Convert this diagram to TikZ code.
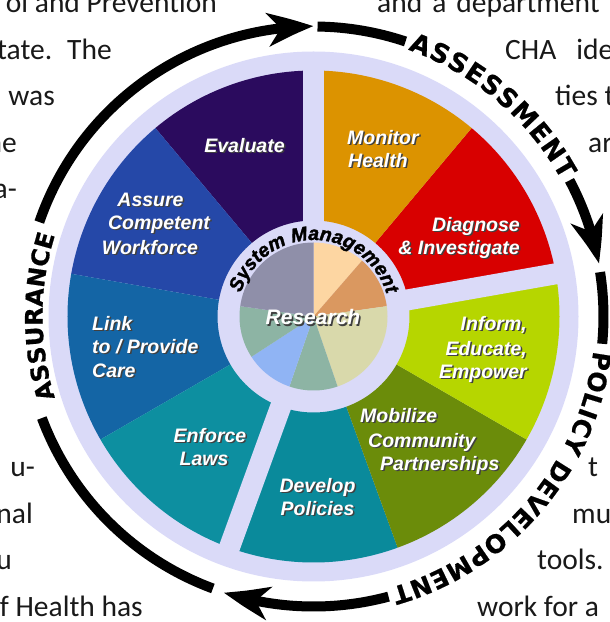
\documentclass[tikz,border=0pt]{standalone}
\usepackage{fontspec}
\setmainfont{Carlito}
\newfontfamily\wheelfont{Liberation Sans}
\newfontfamily\ringfont{Liberation Sans}[FakeBold=1.6]
\newfontfamily\phasefont{DejaVu Sans}[FakeBold=0.6]
\usetikzlibrary{arrows.meta,bending,decorations.text,calc}

\definecolor{lav}{HTML}{DADAF8}
\definecolor{evalc}{HTML}{2B0B5E}
\definecolor{monc}{HTML}{DC9300}
\definecolor{diagc}{HTML}{D80000}
\definecolor{informc}{HTML}{B6D600}
\definecolor{mobilc}{HTML}{6B8C0A}
\definecolor{developc}{HTML}{0A8A9B}
\definecolor{enforcec}{HTML}{0D8FA0}
\definecolor{linkc}{HTML}{1465A5}
\definecolor{assurec}{HTML}{2548A8}
\definecolor{peach}{HTML}{FDD6A2}
\definecolor{tan}{HTML}{DA9860}
\definecolor{khaki}{HTML}{D9D9AB}
\definecolor{sage}{HTML}{8DB4A4}
\definecolor{skyb}{HTML}{90B4F4}
\definecolor{slate}{HTML}{8F8FA9}

% annular sector of the service wheel
\newcommand\wsector[3]{\fill[#1] (#2:96pt) arc[start angle=#2,end angle=#3,radius=96pt]
  -- (#3:246pt) arc[start angle=#3,end angle=#2,radius=246pt] -- cycle;}
% slice of the central pie
\newcommand\pslice[3]{\fill[#1] (0,0) -- (#2:74pt) arc[start angle=#2,end angle=#3,radius=74pt] -- cycle;}
% white label with a dark drop shadow: name, anchor, position, text
\newcommand\wl[4]{%
  \node[lblsh,anchor=#2] (#1s) at ([shift={(1.5,-1.5)}]#3) {#4};
  \node[lbl,anchor=#2] (#1) at (#3) {#4};}

\begin{document}
\begin{tikzpicture}[x=1pt,y=1pt,
  body/.style={inner sep=0pt,font=\fontsize{29.5}{35}\selectfont,text=black!90},
  lbl/.style={inner sep=0pt,text=white,font=\wheelfont\bfseries\itshape\fontsize{19.5}{24}\selectfont},
  lblsh/.style={lbl,text=black!75},
  cyc/.style={line width=10pt,black},
  tipc/.style={-{Stealth[length=46pt,width=33pt,inset=13pt,bend]}}]
\useasboundingbox (0,0) rectangle (610,622);

% surrounding body text
\node[body,anchor=base east] (t1) at (217,609) {ol and Prevention};
\node[body,anchor=base east] (t2) at (112,562.6) {tate.\hspace{15pt}The};
\node[body,anchor=base east] (t3) at (55,516.2) {was};
\node[body,anchor=base east] (t4) at (17,469.8) {ne};
\node[body,anchor=base east] (t5) at (17,423.4) {a-};
\node[body,anchor=base east] (t6) at (35,145) {u-};
\node[body,anchor=base east] (t7) at (33,98.6) {nal};
\node[body,anchor=base east] (t8) at (12,52.2) {u};
\node[body,anchor=base east] (t9) at (143,5.8) {f Health has};
\node[body,anchor=base west] (r1) at (377,609) {and\hspace{10pt}a\hspace{10pt}department};
\node[body,anchor=base west] (r2) at (505,562.6) {CHA\hspace{20pt}ide};
\node[body,anchor=base west] (r3) at (555,516.2) {ties t};
\node[body,anchor=base west] (r4) at (588,469.8) {ar};
\node[body,anchor=base west] (r5) at (588,145) {t};
\node[body,anchor=base west] (r6) at (572,98.6) {mu};
\node[body,anchor=base west] (r7) at (537,52.2) {tools.};
\node[body,anchor=base west] (r8) at (477,5.8) {work for a};

\begin{scope}[shift={(313.5,305.5)}]
  % wheel background
  \fill[lav] (0,0) circle[radius=265pt];
  % the nine services
  \wsector{evalc}{90}{130}
  \wsector{assurec}{130}{170}
  \wsector{linkc}{170}{210}
  \wsector{enforcec}{210}{250}
  \wsector{developc}{250}{290}
  \wsector{mobilc}{290}{330}
  \wsector{informc}{330}{370}
  \wsector{diagc}{10}{50}
  \wsector{monc}{50}{90}
  % gaps between the three core functions
  \foreach \a in {90,10,250} \draw[lav,line width=21pt] (0,0) -- (\a:262pt);
  % central research pie
  \pslice{peach}{90}{49}
  \pslice{tan}{49}{8}
  \pslice{khaki}{8}{-71}
  \pslice{sage}{-71}{-109}
  \pslice{skyb}{-109}{-147}
  \pslice{sage}{-147}{-188}
  \pslice{slate}{172}{90}
  % ring text
  \path[decorate,decoration={text along path,text align=center,
     text={|\ringfont\bfseries\itshape\fontsize{19.5}{22}\selectfont|System Management}}]
     (178:76.5pt) arc[start angle=178,end angle=1,radius=76.5pt];

  % cycle arrows
  \draw[cyc,tipc] (161:290pt) arc[start angle=161,end angle=90,radius=290pt];
  \draw[cyc] (89.2:290pt) arc[start angle=89.2,end angle=71.5,radius=290pt];
  \draw[cyc,tipc] (28:290pt) arc[start angle=28,end angle=10.5,radius=290pt];
  \draw[cyc] (8.8:290pt) arc[start angle=8.8,end angle=-5.4,radius=290pt];
  \draw[cyc,tipc] (-75:290pt) arc[start angle=-75,end angle=-108,radius=290pt];
  \draw[cyc] (249.7:290pt) arc[start angle=249.7,end angle=200.5,radius=290pt];

  % core function names
  \path[decorate,decoration={text along path,text align=fit to path,
     text={|\phasefont\bfseries\fontsize{26}{30}\selectfont|ASSESSMENT}}]
     (70.5:283pt) arc[start angle=70.5,end angle=28.8,radius=283pt];
  \path[decorate,decoration={text along path,text align=fit to path,
     text={|\phasefont\bfseries\fontsize{25}{30}\selectfont|POLICY DEVELOPMENT}}]
     (-7:282pt) arc[start angle=-7,end angle=-74,radius=282pt];
  \path[decorate,decoration={text along path,text align=fit to path,
     text={|\phasefont\bfseries\fontsize{24}{30}\selectfont|ASSURANCE}}]
     (197.5:271pt) arc[start angle=197.5,end angle=162.5,radius=271pt];
\end{scope}

% service labels
\wl{ev}{base}{244.5,469.5}{Evaluate}
\wl{mo}{base west}{347,477.5}{Monitor}
\wl{he}{base west}{348,454.5}{Health}
\wl{di}{base east}{520,390.5}{Diagnose}
\wl{in}{base east}{520,367.5}{\& Investigate}
\wl{if}{base east}{527,291.5}{Inform,}
\wl{ed}{base east}{527,266.5}{Educate,}
\wl{em}{base east}{527,243.5}{Empower}
\wl{mb}{base west}{360,199.5}{Mobilize}
\wl{cm}{base west}{368,174.5}{Community}
\wl{pa}{base west}{380,151.5}{Partnerships}
\wl{dv}{base}{317.5,129.5}{Develop}
\wl{po}{base}{317.5,106.5}{Policies}
\wl{en}{base}{210,179.5}{Enforce}
\wl{la}{base}{204,156.5}{Laws}
\wl{li}{base west}{92,291.5}{Link}
\wl{tp}{base west}{92,268.5}{to / Provide}
\wl{ca}{base west}{92,244.5}{Care}
\wl{as}{base}{150.5,415.5}{Assure}
\wl{co}{base}{159,392.5}{Competent}
\wl{wo}{base}{150,367.5}{Workforce}
\node[lblsh,font=\wheelfont\bfseries\itshape\fontsize{21}{24}\selectfont,anchor=base] (res-s) at (314.5,295.5) {Research};
\node[lbl,font=\wheelfont\bfseries\itshape\fontsize{21}{24}\selectfont,anchor=base] (res) at (313,297) {Research};
\end{tikzpicture}
\end{document}
